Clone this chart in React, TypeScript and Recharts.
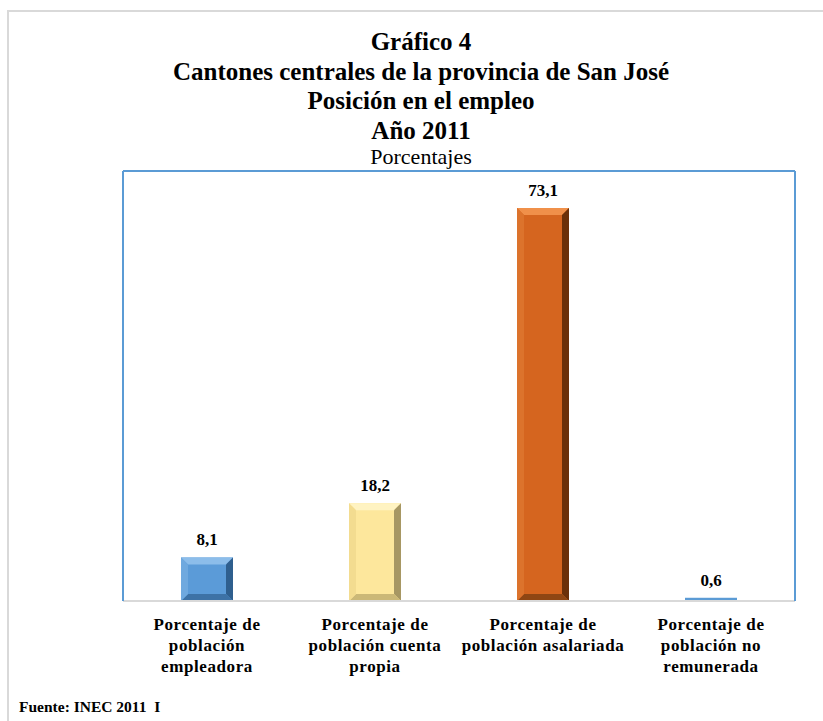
import React from "react";
import { BarChart, Bar, XAxis, YAxis, LabelList } from "recharts";

const categories = [
  "Porcentaje de\npoblación\nempleadora",
  "Porcentaje de\npoblación cuenta\npropia",
  "Porcentaje de\npoblación asalariada",
  "Porcentaje de\npoblación no\nremunerada",
];
const values = [8.1, 18.2, 73.1, 0.6];
const titleLines = [
  "Gráfico 4",
  "Cantones centrales de la provincia de San José",
  "Posición en el empleo",
  "Año 2011",
];
const subtitle = "Porcentajes";
const source = "Fuente: INEC 2011  I";
const yDomain = [0, 80];

const data = categories.map((c, i) => ({ name: c, value: values[i] }));

const SERIF = "Liberation Serif, Tinos, DejaVu Serif, serif";

const palette = [
  { face: "#5b9bd8", top: "#8cbdea", left: "#6fa9df", right: "#2f5f8e", bottom: "#3d72a6" },
  { face: "#fde79c", top: "#fff3c2", left: "#f3dc90", right: "#a79763", bottom: "#cbb877" },
  { face: "#d5651f", top: "#f0904a", left: "#dc732c", right: "#6b3009", bottom: "#8f4613" },
  { face: "#5b9bd5", top: "#5b9bd5", left: "#5b9bd5", right: "#5b9bd5", bottom: "#5b9bd5" },
];

const BevelBar = (props: any) => {
  const { x, y, width, height, index } = props;
  const c = palette[index % palette.length];
  const w = width;
  const h = height;
  if (h < 10) {
    return <rect x={x} y={y} width={w} height={Math.max(h, 1)} fill={c.face} />;
  }
  const b = Math.min(7, w / 2, h / 2);
  const pts = (arr: number[][]) => arr.map((p) => p.join(",")).join(" ");
  return (
    <g>
      <rect x={x} y={y} width={w} height={h} fill={c.face} />
      <polygon points={pts([[x, y], [x + w, y], [x + w - b, y + b], [x + b, y + b]])} fill={c.top} />
      <polygon points={pts([[x + w, y], [x + w, y + h], [x + w - b, y + h - b], [x + w - b, y + b]])} fill={c.right} />
      <polygon points={pts([[x, y + h], [x + w, y + h], [x + w - b, y + h - b], [x + b, y + h - b]])} fill={c.bottom} />
      <polygon points={pts([[x, y], [x + b, y + b], [x + b, y + h - b], [x, y + h]])} fill={c.left} />
    </g>
  );
};

const CategoryTick = (props: any) => {
  const { x, y, payload } = props;
  const lines = String(payload.value).split("\n");
  return (
    <text
      x={x}
      y={y}
      textAnchor="middle"
      fontFamily={SERIF}
      fontWeight="bold"
      fontSize={17}
      letterSpacing={0.6}
      fill="#000"
    >
      {lines.map((l, i) => (
        <tspan key={i} x={x} dy={21}>
          {l}
        </tspan>
      ))}
    </text>
  );
};

export default function App() {
  return (
    <div
      style={{
        position: "absolute",
        left: 0,
        top: 0,
        width: 823,
        height: 721,
        overflow: "hidden",
        background: "#fff",
      }}
    >
      <div
        style={{
          position: "absolute",
          left: 7,
          top: 10,
          width: 900,
          height: 800,
          borderLeft: "2px solid #d9d9d9",
          borderTop: "2px solid #d9d9d9",
        }}
      />
      <div style={{ position: "absolute", left: 0, top: 0 }}>
        <BarChart
          width={823}
          height={721}
          data={data}
          margin={{ top: 170, right: 27, left: 122, bottom: 40 }}
          barCategoryGap={0}
        >
          <XAxis
            dataKey="name"
            height={80}
            interval={0}
            tickLine={false}
            axisLine={{ stroke: "#d9d9d9", strokeWidth: 2 }}
            tick={<CategoryTick />}
          />
          <XAxis
            xAxisId="top"
            dataKey="name"
            orientation="top"
            height={1}
            tick={false}
            tickLine={false}
            axisLine={{ stroke: "#5b9bd5", strokeWidth: 2 }}
          />
          <YAxis
            domain={yDomain}
            width={1}
            tick={false}
            tickLine={false}
            axisLine={{ stroke: "#5b9bd5", strokeWidth: 2 }}
          />
          <YAxis
            yAxisId="right"
            orientation="right"
            domain={yDomain}
            width={1}
            tick={false}
            tickLine={false}
            axisLine={{ stroke: "#5b9bd5", strokeWidth: 2 }}
          />
          <Bar dataKey="value" barSize={52} shape={<BevelBar />} isAnimationActive={false}>
            <LabelList
              dataKey="value"
              position="top"
              offset={12}
              formatter={(v: any) => Number(v).toFixed(1).replace(".", ",")}
              fill="#000"
              fontFamily={SERIF}
              fontWeight="bold"
              fontSize={17}
            />
          </Bar>
        </BarChart>
      </div>
      {titleLines.map((t, i) => (
        <div
          key={i}
          style={{
            position: "absolute",
            left: 0,
            width: 842,
            top: 27 + i * 29.5,
            textAlign: "center",
            fontFamily: SERIF,
            fontWeight: "bold",
            fontSize: 25,
            lineHeight: "30px",
            color: "#000",
          }}
        >
          {t}
        </div>
      ))}
      <div
        style={{
          position: "absolute",
          left: 0,
          width: 842,
          top: 144,
          textAlign: "center",
          fontFamily: SERIF,
          fontSize: 22,
          lineHeight: "26px",
          color: "#000",
        }}
      >
        {subtitle}
      </div>
      <div
        style={{
          position: "absolute",
          left: 19,
          top: 697,
          fontFamily: SERIF,
          fontWeight: "bold",
          fontSize: 15.5,
          lineHeight: "20px",
          color: "#000",
          whiteSpace: "pre",
        }}
      >
        {source}
      </div>
    </div>
  );
}
